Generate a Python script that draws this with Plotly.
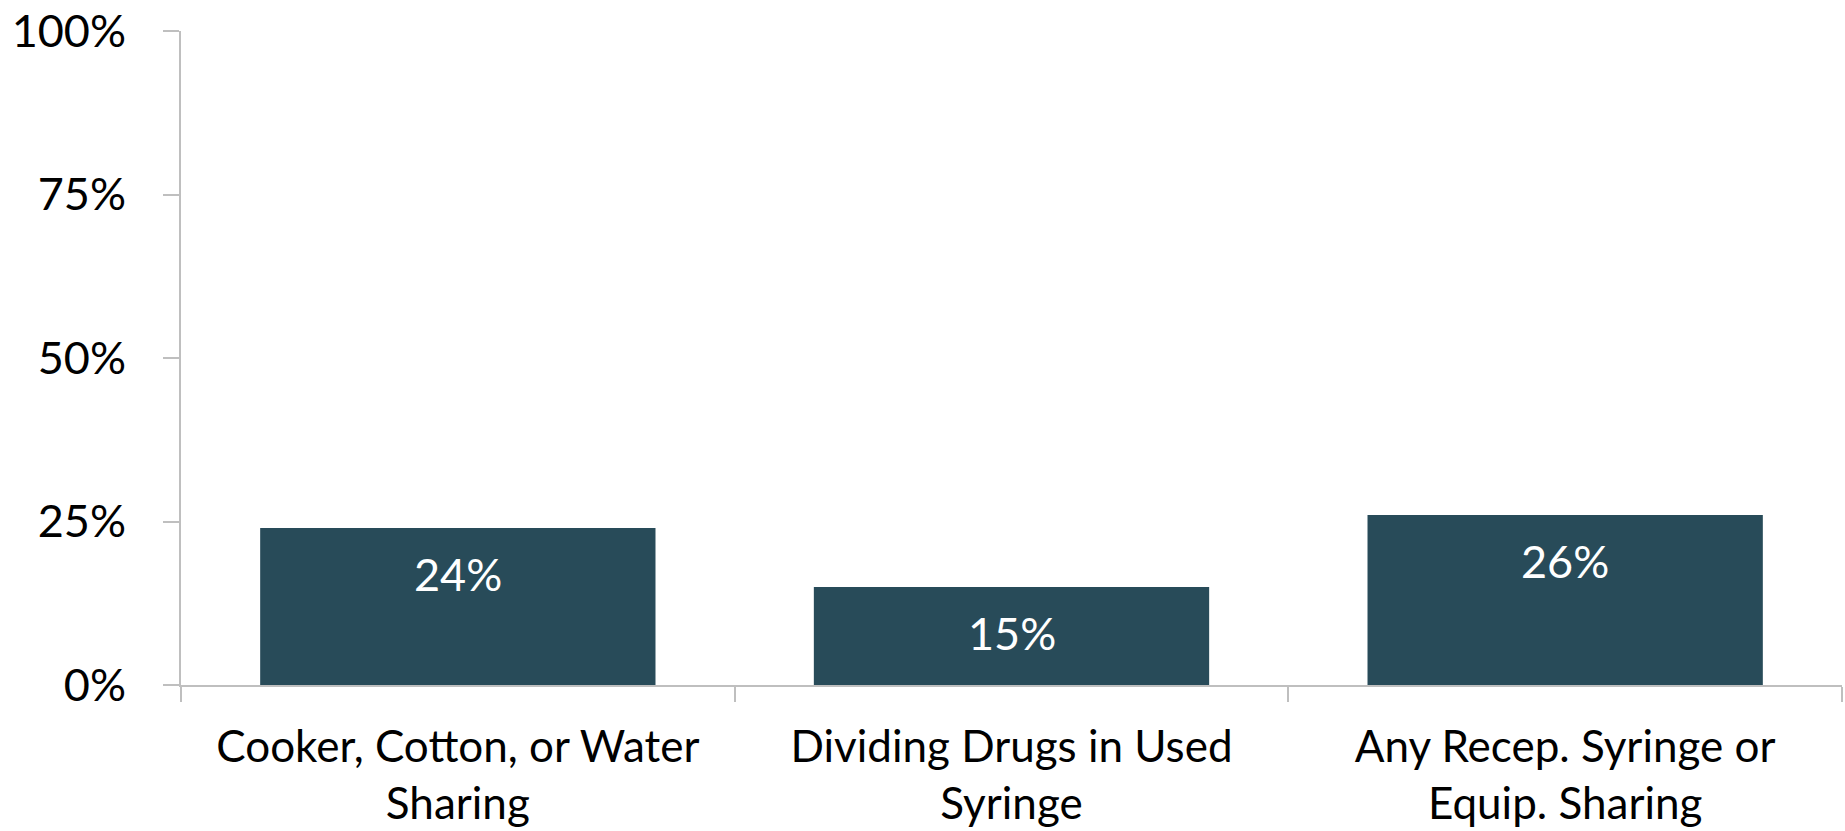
import plotly.graph_objects as go

# Injection-equipment sharing behaviours, share of respondents
categories = [
    "Cooker, Cotton, or Water<br>Sharing",
    "Dividing Drugs in Used<br>Syringe",
    "Any Recep. Syringe or<br>Equip. Sharing",
]
values = [0.24, 0.15, 0.26]
tick_values = [0, 0.25, 0.5, 0.75, 1.0]
tick_labels = ["0%", "25%", "50%", "75%", "100%"]

BAR_COLOR = "#284B59"
AXIS_COLOR = "#BFBFBF"
FONT = "Lato"

fig = go.Figure(
    go.Bar(
        x=categories,
        y=values,
        marker=dict(color=BAR_COLOR, line=dict(width=0)),
        hoverinfo="skip",
    )
)

# Value labels sit inside each bar, a little below its top
for cat, v in zip(categories, values):
    fig.add_annotation(
        x=cat,
        y=v,
        text=f"{round(v * 100)}%",
        showarrow=False,
        yanchor="top",
        yshift=-17,
        font=dict(family=FONT, size=45, color="white"),
    )

fig.update_layout(
    width=1845,
    height=831,
    margin=dict(l=181, r=3, t=30, b=145),
    paper_bgcolor="white",
    plot_bgcolor="white",
    bargap=0.286,
    showlegend=False,
    font=dict(family=FONT, size=44, color="black"),
)

fig.update_xaxes(
    showline=True,
    linecolor=AXIS_COLOR,
    linewidth=2,
    ticks="outside",
    tickson="boundaries",
    ticklen=15,
    tickwidth=2,
    tickcolor=AXIS_COLOR,
    ticklabelstandoff=22,
    tickfont=dict(family=FONT, size=44, color="black"),
    showgrid=False,
    zeroline=False,
    fixedrange=True,
)

fig.update_yaxes(
    range=[0, 1],
    tickvals=tick_values,
    ticktext=tick_labels,
    showline=True,
    linecolor=AXIS_COLOR,
    linewidth=2,
    ticks="outside",
    ticklen=16,
    tickwidth=2,
    tickcolor=AXIS_COLOR,
    ticklabelstandoff=28,
    tickfont=dict(family=FONT, size=45, color="black"),
    showgrid=False,
    zeroline=False,
    fixedrange=True,
)

fig.write_html("out.html", config={"displayModeBar": False})
